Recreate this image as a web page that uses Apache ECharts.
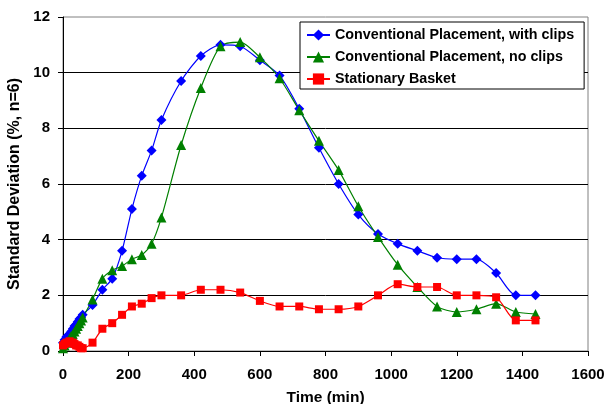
<!DOCTYPE html>
<html>
<head>
<meta charset="utf-8">
<script src="https://cdn.jsdelivr.net/npm/echarts@6/dist/echarts.min.js"></script>
<style>
  html, body { margin: 0; padding: 0; background: #fff; }
  #chart { width: 608px; height: 404px; }
</style>
</head>
<body>
<div id="chart"></div>
<script>
// time points (min)
var timeEarly = [0, 5, 10, 15, 20, 25, 30, 35, 40, 45, 50, 55, 60];
var timeLate = [90, 120, 150, 180, 210, 240, 270, 300, 360, 420, 480, 540, 600, 660, 720,
  780, 840, 900, 960, 1020, 1080, 1140, 1200, 1260, 1320, 1380, 1440];
var times = timeEarly.concat(timeLate);

// standard deviation (%)
var withClips = [0.3, 0.4, 0.5, 0.55, 0.6, 0.7, 0.8, 0.9, 0.95, 1.05, 1.15, 1.2, 1.3,
  1.65, 2.2, 2.6, 3.6, 5.1, 6.3, 7.2, 8.3, 9.7, 10.6, 11.0, 10.95, 10.45, 9.9, 8.7,
  7.3, 6.0, 4.9, 4.2, 3.85, 3.6, 3.35, 3.3, 3.3, 2.8, 2.0, 2.0];
var noClips = [0.1, 0.2, 0.3, 0.35, 0.45, 0.55, 0.6, 0.7, 0.8, 0.9, 1.0, 1.1, 1.2,
  1.85, 2.6, 2.9, 3.05, 3.3, 3.45, 3.85, 4.8, 7.4, 9.45, 10.95, 11.1, 10.55, 9.8, 8.65,
  7.55, 6.5, 5.2, 4.1, 3.1, 2.3, 1.6, 1.4, 1.5, 1.7, 1.4, 1.33];
var basket = [0.2, 0.25, 0.3, 0.3, 0.35, 0.3, 0.3, 0.25, 0.2, 0.2, 0.15, 0.1, 0.1,
  0.3, 0.8, 1.0, 1.3, 1.6, 1.7, 1.9, 2.0, 2.0, 2.2, 2.2, 2.1, 1.8, 1.6, 1.6,
  1.5, 1.5, 1.6, 2.0, 2.4, 2.3, 2.3, 2.0, 2.0, 1.93, 1.1, 1.1];

var seriesNames = ["Conventional Placement, with clips", "Conventional Placement, no clips", "Stationary Basket"];

function pairs(vals) {
  return times.map(function (t, i) { return [t, vals[i]]; });
}

var font = "'Liberation Sans', Arial, sans-serif";
var chart = echarts.init(document.getElementById("chart"));

chart.setOption({
  animation: false,
  grid: {
    left: 63,
    right: 20,
    top: 17,
    bottom: 53,
    outerBoundsMode: "none",
    containLabel: false,
    show: true,
    borderColor: "#808080",
    borderWidth: 1
  },
  legend: {
    orient: "vertical",
    left: 300,
    top: 22,
    padding: [6, 10, 3, 6],
    itemGap: 8,
    itemWidth: 23,
    itemHeight: 14,
    backgroundColor: "#fff",
    borderColor: "#000",
    borderWidth: 1,
    borderRadius: 0,
    textStyle: { fontFamily: font, fontWeight: "bold", fontSize: 14.3, color: "#000", lineHeight: 14 },
    data: seriesNames
  },
  xAxis: {
    type: "value",
    min: 0,
    max: 1600,
    interval: 200,
    name: "Time (min)",
    nameLocation: "middle",
    nameGap: 39,
    nameTextStyle: { fontFamily: font, fontWeight: "bold", fontSize: 15.5, color: "#000" },
    axisLine: { onZero: false, lineStyle: { color: "#000" } },
    axisTick: { show: true, length: 5, inside: false, lineStyle: { color: "#000" } },
    axisLabel: {
      fontFamily: font, fontWeight: "bold", fontSize: 15, color: "#000", margin: 16,
      formatter: function (v) { return String(v); }
    },
    splitLine: { show: false }
  },
  yAxis: {
    type: "value",
    min: 0,
    max: 12,
    interval: 2,
    name: "Standard Deviation (%, n=6)",
    nameLocation: "middle",
    nameGap: 33,
    nameTextStyle: { fontFamily: font, fontWeight: "bold", fontSize: 16, color: "#000" },
    axisLine: { show: true, lineStyle: { color: "#000" } },
    axisTick: { show: true, length: 5, lineStyle: { color: "#000" } },
    axisLabel: { fontFamily: font, fontWeight: "bold", fontSize: 15, color: "#000", margin: 13 },
    splitLine: { show: true, showMaxLine: false, lineStyle: { color: "#000", width: 1 } }
  },
  series: [
    {
      name: seriesNames[0],
      type: "line",
      smooth: 0.25,
      data: pairs(withClips),
      symbol: "diamond",
      symbolSize: 10,
      itemStyle: { color: "#0000ff" },
      lineStyle: { color: "#0000ff", width: 1.2 }
    },
    {
      name: seriesNames[1],
      type: "line",
      smooth: 0.25,
      data: pairs(noClips),
      symbol: "triangle",
      symbolSize: 10,
      itemStyle: { color: "#008000" },
      lineStyle: { color: "#008000", width: 1.2 }
    },
    {
      name: seriesNames[2],
      type: "line",
      smooth: 0.25,
      data: pairs(basket),
      symbol: "rect",
      symbolSize: 8,
      itemStyle: { color: "#ff0000" },
      lineStyle: { color: "#ff0000", width: 1.2 }
    }
  ]
});
</script>
</body>
</html>
